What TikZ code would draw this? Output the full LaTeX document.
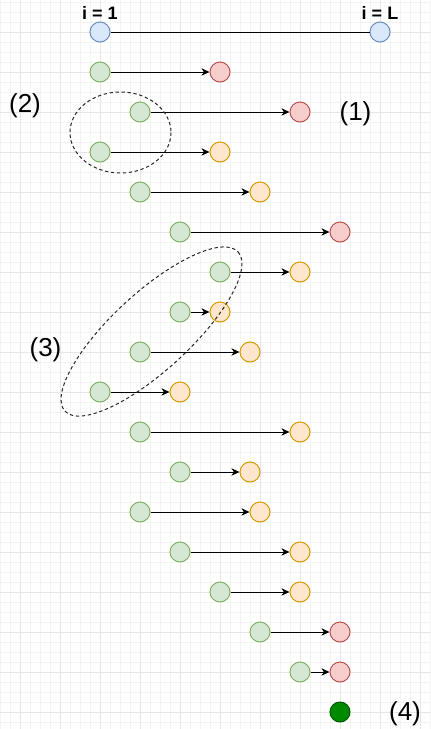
\documentclass[tikz,border=0pt]{standalone}
\usepackage{fontspec}
\setmainfont{Liberation Sans}
\usetikzlibrary{arrows.meta}
\definecolor{gfill}{HTML}{D5E8D4}\definecolor{gline}{HTML}{82B366}
\definecolor{rfill}{HTML}{F8CECC}\definecolor{rline}{HTML}{B85450}
\definecolor{ofill}{HTML}{FFE6CC}\definecolor{oline}{HTML}{D79B00}
\definecolor{bfill}{HTML}{DAE8FC}\definecolor{bline}{HTML}{6C8EBF}
\definecolor{dgfill}{HTML}{008A00}\definecolor{dgline}{HTML}{005700}
\definecolor{minorgrid}{HTML}{F3F3F3}\definecolor{majorgrid}{HTML}{E6E6E6}
\begin{document}
\begin{tikzpicture}[x=0.75pt,y=-0.75pt,
  dot/.style={circle,minimum size=15pt,inner sep=0pt,line width=0.75pt},
  gn/.style={dot,fill=gfill,draw=gline},
  rn/.style={dot,fill=rfill,draw=rline},
  on/.style={dot,fill=ofill,draw=oline},
  bn/.style={dot,fill=bfill,draw=bline},
  dn/.style={dot,fill=dgfill,draw=dgline},
  arr/.style={-{Stealth[length=6pt,width=5.5pt,inset=1.8pt]},line width=0.75pt},
  toplbl/.style={font=\fontsize{13.5}{14}\selectfont\bfseries,inner sep=0pt},
  lbl/.style={font=\fontsize{19.5}{22}\selectfont,inner sep=0pt},
  grp/.style={dashed,dash pattern=on 2.5pt off 2pt,line width=0.75pt,draw=black!85}]
\useasboundingbox (0,0) rectangle (431,729);
\fill[white] (0,0) rectangle (431,729);
\foreach \x in {0,10,...,430} \draw[minorgrid,line width=0.75pt] (\x,0) -- (\x,729);
\foreach \y in {2,12,...,722} \draw[minorgrid,line width=0.75pt] (0,\y) -- (431,\y);
\foreach \x in {20,60,...,420} \draw[majorgrid,line width=0.75pt] (\x,0) -- (\x,729);
\foreach \y in {32,72,...,712} \draw[majorgrid,line width=0.75pt] (0,\y) -- (431,\y);
% top row
\node[bn] (b1) at (100,32) {};
\node[bn] (bL) at (380,32) {};
\draw[line width=0.75pt] (b1) -- (bL);
\node[toplbl] (i1) at (100,12.5) {i = 1};
\node[toplbl] (iL) at (380,12.5) {i = L};
% rows
\foreach \r/\gx/\tx/\tt in {1/100/220/rn, 2/140/300/rn, 3/100/220/on, 4/140/260/on,
  5/180/340/rn, 6/220/300/on, 7/180/220/on, 8/140/250/on, 9/100/180/on,
  10/140/300/on, 11/180/250/on, 12/140/260/on, 13/180/300/on, 14/220/300/on,
  15/260/340/rn, 16/300/340/rn} {
  \node[gn] (g\r) at (\gx,{32+40*\r}) {};
  \node[\tt] (t\r) at (\tx,{32+40*\r}) {};
  \draw[arr] (g\r) -- (t\r);
}
\node[dn] (fin) at (340,712) {};
% labels
\node[lbl] (l1) at (355.5,114) {(1)};
\node[lbl] (l2) at (25,106) {(2)};
\node[lbl] (l3) at (45.5,350) {(3)};
\node[lbl] (l4) at (405,714) {(4)};
% groups
\draw[grp] (120.5,132.5) ellipse [x radius=50.5, y radius=40.5];
\draw[grp] (151.5,331.5) ellipse [x radius=117.6, y radius=38.8, rotate=42.6];
\end{tikzpicture}
\end{document}
